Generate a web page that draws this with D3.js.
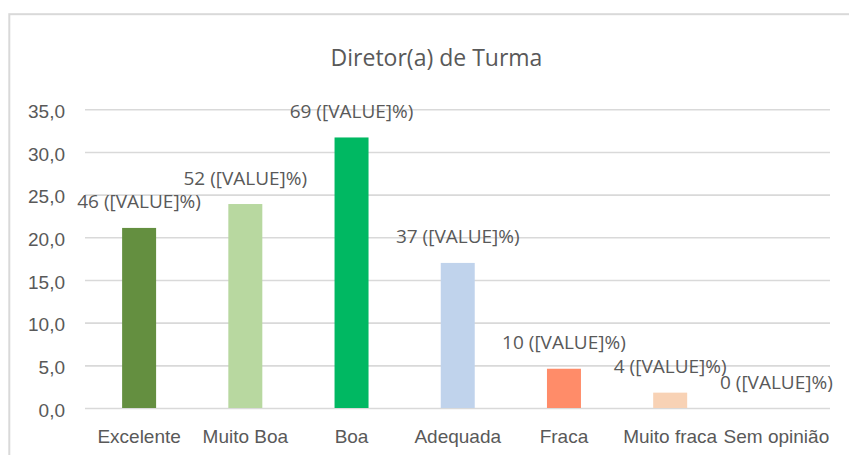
<!DOCTYPE html>
<html>
<head>
<meta charset="utf-8">
<script src="https://cdn.jsdelivr.net/npm/d3@7"></script>
<style>
  html, body { margin: 0; padding: 0; background: #fff; }
  svg { display: block; font-family: "Open Sans", "Noto Sans", sans-serif; }
</style>
</head>
<body>
<svg id="chart" width="849" height="455"></svg>
<script>
const title = "Diretor(a) de Turma";
const categories = ["Excelente", "Muito Boa", "Boa", "Adequada", "Fraca", "Muito fraca", "Sem opinião"];
const percentValues = [21.1, 23.9, 31.7, 17.0, 4.6, 1.8, 0];
const counts = [46, 52, 69, 37, 10, 4, 0];
const barColors = ["#648F40", "#B8D8A0", "#00B862", "#C0D3EC", "#FF8C69", "#F8D2B5", "#BFBFBF"];
const yTicks = [0, 5, 10, 15, 20, 25, 30, 35];

const textColor = "#595959";
const gridColor = "#D9D9D9";

const svg = d3.select("#chart");
const W = 849, H = 455;

svg.append("rect").attr("x", 0).attr("y", 0).attr("width", W).attr("height", H).attr("fill", "#fff");
// chart area border
svg.append("rect")
  .attr("x", 9.3).attr("y", 14.2).attr("width", 880).attr("height", 460)
  .attr("fill", "none").attr("stroke", gridColor).attr("stroke-width", 2);

const x = d3.scaleBand().domain(categories).range([86, 829.5]).paddingInner(0.68).paddingOuter(0.34);
const y = d3.scaleLinear().domain([0, 35]).range([408, 109.3]);

const locale = d3.formatLocale({decimal: ",", thousands: ".", grouping: [3], currency: ["", "€"]});
const fmt = locale.format(".1f");

// y axis with gridlines
const yAxis = d3.axisLeft(y).tickValues(yTicks).tickFormat(fmt).tickSize(745).tickPadding(20);
const gy = svg.append("g").attr("transform", "translate(830,0)").call(yAxis);
gy.select(".domain").remove();
gy.selectAll(".tick line").attr("stroke", gridColor).attr("stroke-width", 1.6);
gy.selectAll(".tick text")
  .attr("fill", textColor).attr("font-size", 19)
  .attr("transform", "translate(0,2)");

// bars
svg.append("g").selectAll("rect").data(categories).join("rect")
  .attr("x", d => x(d))
  .attr("width", x.bandwidth())
  .attr("y", (d, i) => y(percentValues[i]))
  .attr("height", (d, i) => y(0) - y(percentValues[i]))
  .attr("fill", (d, i) => barColors[i]);

// data labels
svg.append("g").selectAll("text").data(categories).join("text")
  .attr("x", d => x(d) + x.bandwidth() / 2)
  .attr("y", (d, i) => y(percentValues[i]) - 19.5)
  .attr("text-anchor", "middle")
  .attr("fill", textColor).attr("font-size", 19)
  .text((d, i) => counts[i] + " ([VALUE]%)");

// category axis labels
const xAxis = d3.axisBottom(x).tickSize(0).tickPadding(0);
const gx = svg.append("g").attr("transform", "translate(0,408)").call(xAxis);
gx.select(".domain").remove();
gx.selectAll(".tick text")
  .attr("fill", textColor).attr("font-size", 19)
  .attr("y", 35).attr("dy", 0);

// title
svg.append("text")
  .attr("x", 436.5).attr("y", 66)
  .attr("text-anchor", "middle")
  .attr("fill", textColor).attr("font-size", 23)
  .text(title);
</script>
</body>
</html>
